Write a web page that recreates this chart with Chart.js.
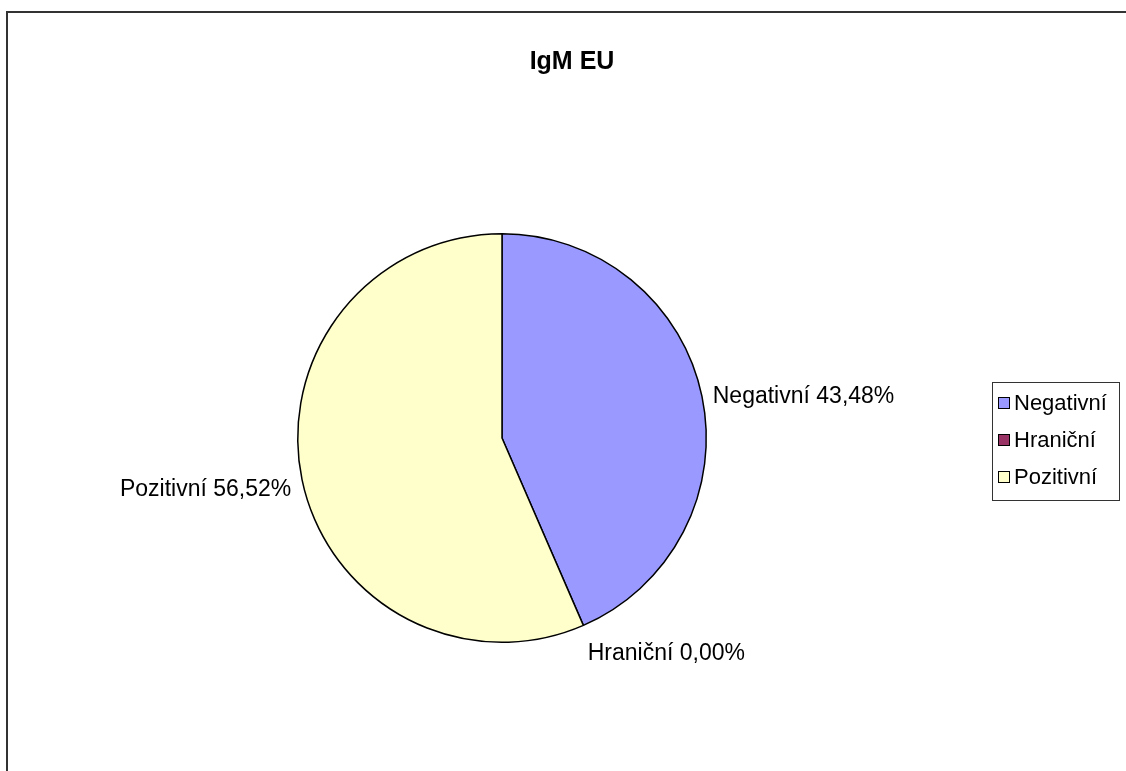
<!DOCTYPE html>
<html lang="cs">
<head>
<meta charset="utf-8">
<title>IgM EU</title>
<script src="https://cdn.jsdelivr.net/npm/chart.js@4/dist/chart.umd.min.js"></script>
<style>
  html, body { margin: 0; padding: 0; background: #fff; }
  #wrap { position: relative; width: 1126px; height: 771px; }
</style>
</head>
<body>
<div id="wrap"><canvas id="chart" width="1126" height="771"></canvas></div>
<script>
// Výsledky IgM EU (počty vzorků)
const chartTitle = 'IgM EU';
const categories = ['Negativní', 'Hraniční', 'Pozitivní'];
const counts = [10, 0, 13];
const sliceColors = ['#9999FF', '#993366', '#FFFFCC'];

const total = counts.reduce((a, b) => a + b, 0);
const pctText = v => (v / total * 100).toFixed(2).replace('.', ',') + '%';

const FONT = '"Liberation Sans", Arial, sans-serif';

// rámeček, nadpis, popisky výsečí a legenda
const excelDecor = {
  id: 'excelDecor',
  beforeDraw(chart) {
    const ctx = chart.ctx;
    ctx.save();
    ctx.strokeStyle = '#333';
    ctx.lineWidth = 2;
    ctx.beginPath();
    ctx.moveTo(7, 771);
    ctx.lineTo(7, 12);
    ctx.lineTo(1126, 12);
    ctx.stroke();
    ctx.restore();
  },
  afterDatasetsDraw(chart) {
    const ctx = chart.ctx;
    const meta = chart.getDatasetMeta(0);
    ctx.save();

    // nadpis
    ctx.fillStyle = '#000';
    ctx.font = 'bold 25px ' + FONT;
    ctx.textAlign = 'center';
    ctx.textBaseline = 'middle';
    ctx.fillText(chartTitle, 572, 62);

    // popisky u výsečí
    ctx.font = '23px ' + FONT;
    meta.data.forEach((arc, i) => {
      const p = arc.getProps(['x', 'y', 'startAngle', 'endAngle', 'outerRadius'], true);
      const mid = (p.startAngle + p.endAngle) / 2;
      const c = Math.cos(mid), s = Math.sin(mid);
      const R = p.outerRadius + 11;
      const px = p.x + c * R;
      const py = p.y + s * R + 5 + s * 14;
      ctx.textAlign = c >= 0 ? 'left' : 'right';
      ctx.fillText(categories[i] + ' ' + pctText(counts[i]), px, py);
    });

    // legenda
    const lx = 992, ly = 382, lw = 127, lh = 118;
    ctx.strokeStyle = '#333';
    ctx.lineWidth = 1;
    ctx.strokeRect(lx + 0.5, ly + 0.5, lw, lh);
    ctx.font = '22px ' + FONT;
    ctx.textAlign = 'left';
    categories.forEach((name, i) => {
      const cy = ly + 21 + i * 37;
      ctx.fillStyle = sliceColors[i];
      ctx.fillRect(lx + 6, cy - 6, 12, 12);
      ctx.strokeStyle = '#000';
      ctx.strokeRect(lx + 6.5, cy - 5.5, 11, 11);
      ctx.fillStyle = '#000';
      ctx.fillText(name, lx + 22, cy + 1);
    });
    ctx.restore();
  }
};

new Chart(document.getElementById('chart'), {
  type: 'pie',
  data: {
    labels: categories,
    datasets: [{
      data: counts,
      backgroundColor: sliceColors,
      borderColor: '#000',
      borderWidth: 1.5,
      hoverOffset: 0
    }]
  },
  options: {
    responsive: false,
    animation: false,
    layout: { padding: { left: 297, top: 233, right: 419, bottom: 128 } },
    plugins: {
      legend: { display: false },
      title: { display: false },
      tooltip: { enabled: false }
    }
  },
  plugins: [excelDecor]
});
</script>
</body>
</html>
